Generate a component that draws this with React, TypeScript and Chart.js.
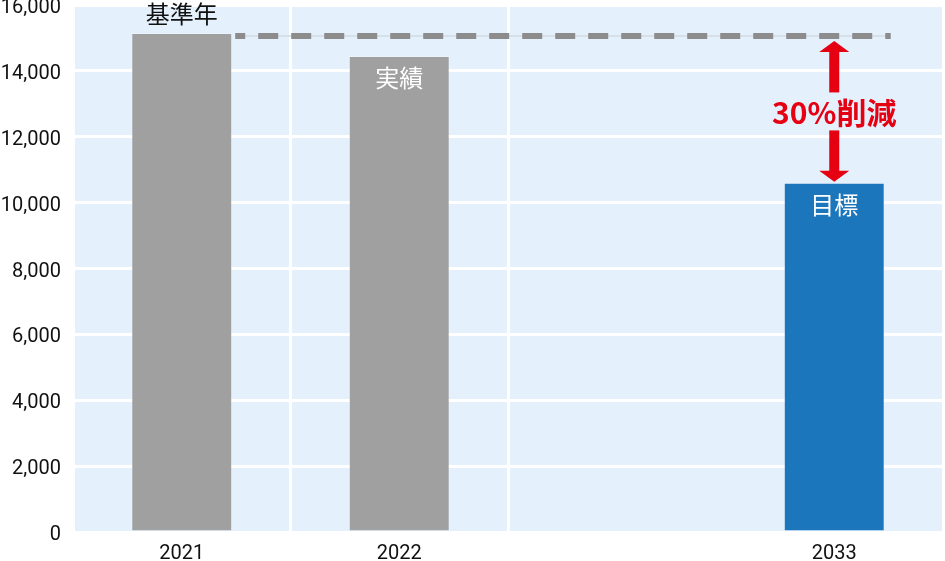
import React, { useEffect, useRef } from "react";
import { Chart, registerables } from "chart.js";

Chart.register(...registerables);

const categories = ["2021", "2022", "", "2033"];
const emissions = [15150, 14450, null, 10600];
const barColors = ["#a0a0a0", "#a0a0a0", "#a0a0a0", "#1c76bc"];
const barNotes = ["基準年", "実績", "", "目標"];
const noteColors = ["#111111", "#ffffff", "#ffffff", "#ffffff"];
const yMin = 0;
const yMax = 16000;
const yStep = 2000;
const reductionLabel = "30%削減";

const bgPlugin = {
  id: "plotBg",
  beforeDraw(chart: any) {
    const { ctx, chartArea } = chart;
    ctx.save();
    ctx.fillStyle = "#e4f0fc";
    ctx.fillRect(chartArea.left, chartArea.top, chartArea.right - chartArea.left, chartArea.bottom - chartArea.top);
    ctx.restore();
  },
};

const annoPlugin = {
  id: "anno",
  afterDatasetsDraw(chart: any) {
    const { ctx } = chart;
    const meta = chart.getDatasetMeta(0);
    const ys = chart.scales.y;
    const b0 = meta.data[0];
    const b3 = meta.data[3];
    const baseY = ys.getPixelForValue(emissions[0] as number);
    const lineY = baseY + 3;
    const x0 = b0.x + b0.width / 2 + 3;
    const x1 = b3.x + b3.width / 2 + 6;
    ctx.save();
    ctx.strokeStyle = "#d3dae3";
    ctx.lineWidth = 1.5;
    ctx.beginPath();
    ctx.moveTo(x0, lineY);
    ctx.lineTo(x1, lineY);
    ctx.stroke();
    ctx.strokeStyle = "#8c8c8c";
    ctx.lineWidth = 6;
    ctx.lineCap = "butt";
    ctx.setLineDash([20, 13]);
    ctx.lineDashOffset = 10;
    ctx.beginPath();
    ctx.moveTo(x0, lineY);
    ctx.lineTo(x1, lineY);
    ctx.stroke();
    ctx.setLineDash([]);

    const ax = b3.x;
    const top = lineY + 5;
    const bottom = b3.y - 1;
    const mid = (top + bottom) / 2;
    const headH = 11;
    const headW = 15;
    const shaft = 5;
    const gap = 19;
    ctx.fillStyle = "#e50012";
    ctx.beginPath();
    ctx.moveTo(ax, top);
    ctx.lineTo(ax + headW, top + headH);
    ctx.lineTo(ax - headW, top + headH);
    ctx.closePath();
    ctx.fill();
    ctx.fillRect(ax - shaft, top + headH - 0.5, shaft * 2, mid - gap - (top + headH) + 0.5);
    ctx.beginPath();
    ctx.moveTo(ax, bottom);
    ctx.lineTo(ax + headW, bottom - headH);
    ctx.lineTo(ax - headW, bottom - headH);
    ctx.closePath();
    ctx.fill();
    ctx.fillRect(ax - shaft, mid + gap, shaft * 2, bottom - headH + 0.5 - (mid + gap));

    ctx.textAlign = "center";
    ctx.textBaseline = "middle";
    ctx.font = 'bold 30px "Noto Sans CJK JP", sans-serif';
    ctx.fillText(reductionLabel, ax, mid + 1);

    ctx.font = '24px "Noto Sans CJK JP", sans-serif';
    meta.data.forEach((bar: any, i: number) => {
      const note = barNotes[i];
      if (!note || emissions[i] == null) return;
      ctx.fillStyle = noteColors[i];
      const y = i === 0 ? bar.y - 19 : bar.y + 22;
      ctx.fillText(note, bar.x, y);
    });
    ctx.restore();
  },
};

export default function App() {
  const ref = useRef<HTMLCanvasElement>(null);
  useEffect(() => {
    if (!ref.current) return;
    const tickFont = { family: "Roboto, sans-serif", size: 20 };
    const chart = new Chart(ref.current, {
      type: "bar",
      data: {
        labels: categories,
        datasets: [
          {
            data: emissions,
            backgroundColor: barColors,
            borderColor: "rgba(255,255,255,0.25)",
            borderWidth: 1,
            categoryPercentage: 1,
            barPercentage: 0.464,
          },
        ],
      },
      options: {
        responsive: false,
        animation: false,
        layout: { padding: { top: 5, right: 2, left: 0, bottom: 0 } },
        plugins: { legend: { display: false }, tooltip: { enabled: false } },
        scales: {
          x: {
            offset: true,
            grid: {
              offset: true,
              drawTicks: false,
              lineWidth: 3,
              color: (c: any) => (c.index === 3 ? "rgba(0,0,0,0)" : "#ffffff"),
            },
            border: { display: false },
            ticks: { color: "#111111", font: tickFont, padding: 10, maxRotation: 0 },
            afterFit: (s: any) => {
              s.height = 29;
              s.paddingLeft = 0;
              s.paddingRight = 0;
            },
          },
          y: {
            min: yMin,
            max: yMax,
            grid: { drawTicks: false, lineWidth: 3, color: "#ffffff" },
            border: { display: false },
            ticks: {
              stepSize: yStep,
              color: "#111111",
              font: tickFont,
              padding: 12,
              labelOffset: 3,
              callback: (v: any) => Number(v).toLocaleString("en-US"),
            },
            afterFit: (s: any) => {
              s.width = 73;
              s.paddingTop = 0;
              s.paddingBottom = 0;
            },
          },
        },
      },
      plugins: [bgPlugin, annoPlugin],
    });
    return () => chart.destroy();
  }, []);
  return (
    <div style={{ position: "absolute", left: 0, top: 0, width: 945, height: 561, background: "#ffffff" }}>
      <canvas ref={ref} width={945} height={561} style={{ display: "block" }} />
    </div>
  );
}
